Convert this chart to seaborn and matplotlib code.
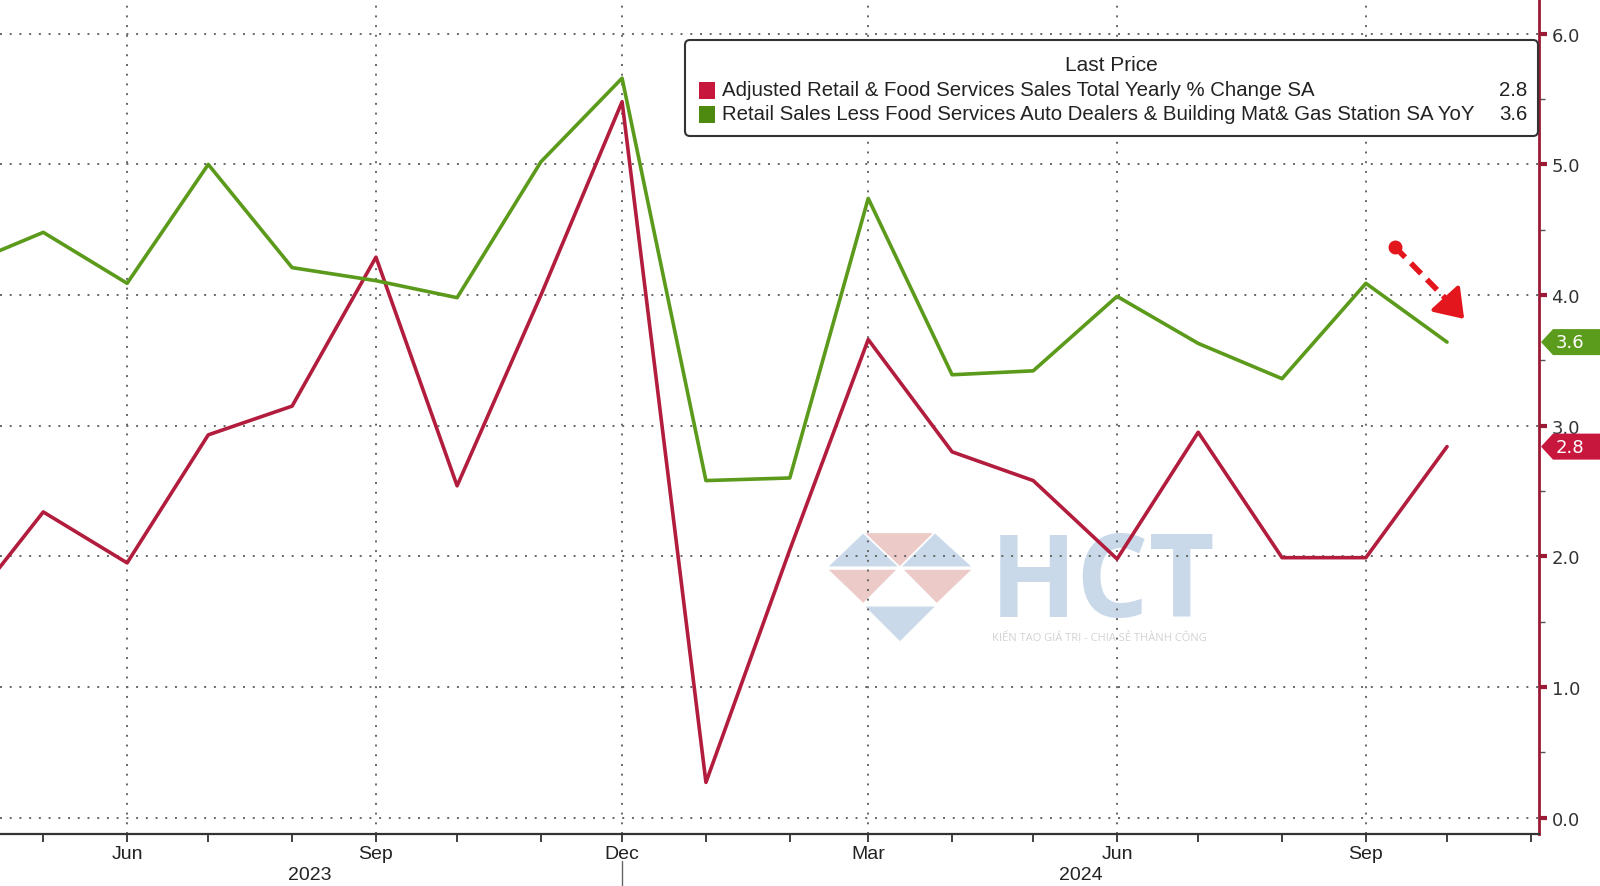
"""
Retail sales YoY: headline vs control group, Bloomberg-style chart
"""

import matplotlib
matplotlib.use('Agg')
import matplotlib.pyplot as plt
import matplotlib.dates as mdates
from matplotlib.ticker import FormatStrFormatter
from matplotlib.patches import FancyBboxPatch, Rectangle, Polygon, FancyArrowPatch
from matplotlib.lines import Line2D
import seaborn as sns
import pandas as pd
import numpy as np

# Data (Apr 2023 .. Oct 2024, monthly)
months = pd.date_range('2023-04-01', '2024-10-01', freq='MS')
retail_total = [1.55, 2.34, 1.95, 2.93, 3.15, 4.29, 2.54, 4.00, 5.48, 0.27,
                2.05, 3.66, 2.80, 2.58, 1.98, 2.95, 1.99, 1.99, 2.84]
retail_control = [4.22, 4.48, 4.09, 5.00, 4.21, 4.11, 3.98, 5.02, 5.66, 2.58,
                  2.60, 4.74, 3.39, 3.42, 3.99, 3.63, 3.36, 4.09, 3.64]
series_names = ['Adjusted Retail & Food Services Sales Total Yearly % Change SA',
                'Retail Sales Less Food Services Auto Dealers & Building Mat& Gas Station SA YoY']
last_values = ['2.8', '3.6']
year_labels = ['2023', '2024']

RED = '#b21d3d'
GREEN = '#5b9a1b'
TAG_RED = '#c8173d'
TAG_GREEN = '#5c9c1c'
SPINE_RED = '#9b1b35'

df = pd.DataFrame({
    'date': list(months) * 2,
    'value': retail_total + retail_control,
    'series': [series_names[0]] * len(months) + [series_names[1]] * len(months),
})

sns.set_theme(style='white')
plt.rcParams['font.family'] = ['DejaVu Sans']

W, H = 1600, 887
fig = plt.figure(figsize=(W / 100, H / 100), dpi=100)
fig.patch.set_facecolor('white')
AX_B, AX_H = 52 / H, 835 / H
ax = fig.add_axes([0, AX_B, 1539 / W, AX_H])
ax.patch.set_alpha(0)

sns.lineplot(data=df, x='date', y='value', hue='series', palette=[RED, GREEN],
             linewidth=2.6, legend=False, ax=ax, zorder=3)

YLO, YHI = -0.125, 6.266
ax.set_xlim(pd.Timestamp('2023-04-15'), pd.Timestamp('2024-11-04'))
ax.set_ylim(YLO, YHI)
ax.set_xlabel('')
ax.set_ylabel('')

# y axis on the right
ax.yaxis.tick_right()
ax.set_yticks(np.arange(0, 6.5, 1))
ax.set_yticks(np.arange(0.5, 6, 1), minor=True)
ax.yaxis.set_major_formatter(FormatStrFormatter('%.1f'))
ax.tick_params(axis='y', which='major', direction='out', length=6, width=3,
               color=SPINE_RED, labelsize=13, labelcolor='#333333', pad=3)
ax.tick_params(axis='y', which='minor', direction='out', length=4, width=1,
               color='#555555')

# x axis: month ticks, quarterly labels
ax.xaxis.set_major_locator(mdates.MonthLocator(bymonth=[3, 6, 9, 12]))
ax.xaxis.set_major_formatter(mdates.DateFormatter('%b'))
ax.xaxis.set_minor_locator(mdates.MonthLocator())
ax.tick_params(axis='x', which='both', bottom=True, direction='out', length=6,
               width=1.3, color='#333333', labelsize=14, labelcolor='#222222', pad=2)
for t in ax.get_xticklabels():
    t.set_fontfamily('Liberation Sans')

ax.grid(True, which='major', axis='both', linestyle=(0, (1, 4)),
        color='#666666', linewidth=1.4)

for s in ['top', 'left']:
    ax.spines[s].set_visible(False)
ax.spines['bottom'].set_color('#333333')
ax.spines['bottom'].set_linewidth(1.6)
ax.spines['right'].set_color(SPINE_RED)
ax.spines['right'].set_linewidth(2)

# year labels and year separator
fig.text(310 / W, 1 - 876 / H, year_labels[0], ha='center', va='center',
         fontsize=14, family='Liberation Sans', color='#222222')
fig.text(1081 / W, 1 - 876 / H, year_labels[1], ha='center', va='center',
         fontsize=14, family='Liberation Sans', color='#222222')
fig.lines.append(Line2D([622 / W, 622 / W], [1 - 862 / H, 0], transform=fig.transFigure,
                        color='#666666', linewidth=1))

# last-value tags on the right axis
def add_tag(val, text, color):
    yp = (AX_B + (val - YLO) / (YHI - YLO) * AX_H) * H
    pts = [(1541, yp), (1553, yp + 13), (1600, yp + 13), (1600, yp - 13), (1553, yp - 13)]
    fig.patches.append(Polygon([(x / W, y / H) for x, y in pts], closed=True,
                               transform=fig.transFigure, facecolor=color,
                               edgecolor='none', zorder=5))
    fig.text(1556 / W, yp / H, text, color='white', fontsize=13, va='center',
             ha='left', zorder=6)

add_tag(retail_control[-1], last_values[1], TAG_GREEN)
add_tag(retail_total[-1], last_values[0], TAG_RED)

# legend box
leg = FancyBboxPatch((6.85, 8.87 - 1.37), 8.53, 0.96,
                     boxstyle='round,pad=0,rounding_size=0.05',
                     transform=fig.dpi_scale_trans, facecolor='white',
                     edgecolor='#333333', linewidth=1.5, zorder=4)
fig.patches.append(leg)
fig.text(11.11, 8.87 - 0.655, 'Last Price', transform=fig.dpi_scale_trans,
         ha='center', va='center', fontsize=15, family='Liberation Sans',
         color='#222222', zorder=5)
entry_texts = []
for i, (name, val, col) in enumerate(zip(series_names, last_values, [TAG_RED, '#4f8a10'])):
    yc = 8.87 - (0.91 + 0.24 * i)
    fig.patches.append(Rectangle((6.99, yc - 0.085), 0.16, 0.17,
                                 transform=fig.dpi_scale_trans, facecolor=col,
                                 edgecolor='none', zorder=5))
    entry_texts.append(fig.text(7.22, yc, name, transform=fig.dpi_scale_trans,
                                ha='left', va='center', fontsize=14,
                                family='Liberation Sans', color='#222222', zorder=5))
    entry_texts.append(fig.text(15.27, yc, val, transform=fig.dpi_scale_trans,
                                ha='right', va='center', fontsize=14,
                                family='Liberation Sans', color='#222222', zorder=5))

# fit the long legend line to its width in the reference
fig.canvas.draw()
r = fig.canvas.get_renderer()
bb = entry_texts[2].get_window_extent(renderer=r)
size = 14 * 757 / bb.width
for t in entry_texts:
    t.set_fontsize(size)

# red dashed arrow
fig.lines.append(Line2D([1395 / W, 1450 / W], [1 - 248 / H, 1 - 304 / H],
                        transform=fig.transFigure, color='#e3161d', linewidth=4,
                        linestyle=(0, (2.6, 1.5)), zorder=6))
fig.lines.append(Line2D([1395 / W], [1 - 248 / H], transform=fig.transFigure,
                        marker='o', markersize=9, color='#e3161d', zorder=6))
fig.add_artist(FancyArrowPatch(
    (1446 / W, 1 - 300 / H), (1466 / W, 1 - 322 / H), transform=fig.transFigure,
    arrowstyle='-|>,head_length=1.0,head_width=0.7', mutation_scale=17,
    color='#e3161d', linewidth=3, zorder=6))

# faint watermark
WM_BLUE = '#c9d9ea'
WM_PINK = '#ebcac7'
tris = [
    ([(826.7, 568.3), (863.3, 533.3), (900, 568.3)], WM_BLUE),
    ([(863.3, 533.3), (935, 533.3), (900, 568.3)], WM_PINK),
    ([(900, 568.3), (935, 533.3), (973.3, 568.3)], WM_BLUE),
    ([(826.7, 570), (898, 570), (863.3, 605)], WM_PINK),
    ([(902, 570), (973.3, 570), (936.7, 605)], WM_PINK),
    ([(863.3, 606.7), (936.7, 606.7), (900, 643.3)], WM_BLUE),
]
for pts, col in tris:
    fig.patches.append(Polygon([(x / W, 1 - y / H) for x, y in pts], closed=True,
                               transform=fig.transFigure, facecolor=col,
                               edgecolor='white', linewidth=1.2, zorder=-1))
fig.text(990 / W, 1 - 617 / H, 'HCT', fontsize=82, fontweight='bold',
         family='Open Sans', color=WM_BLUE, ha='left', va='baseline', zorder=-1)
fig.text(992 / W, 1 - 637 / H, 'KIẾN TẠO GIÁ TRỊ - CHIA SẺ THÀNH CÔNG', fontsize=8,
         family='Open Sans', color='#d2d2d2', ha='left', va='center', zorder=-1)

fig.savefig('out.png', dpi=100, facecolor='white')
